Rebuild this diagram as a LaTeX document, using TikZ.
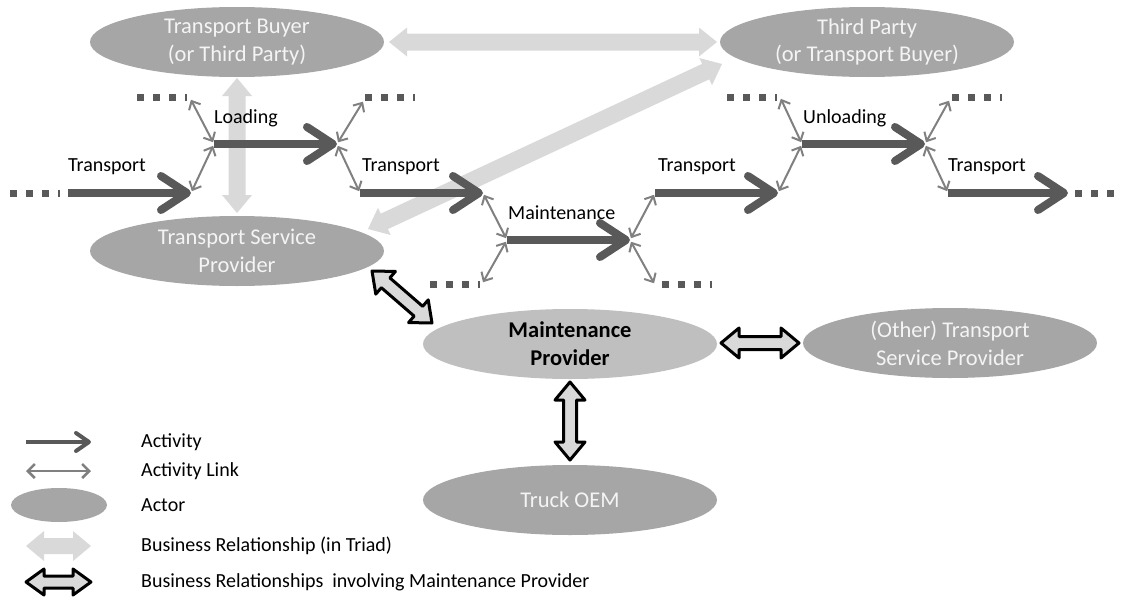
\documentclass[tikz,border=0pt]{standalone}
\usepackage{fontspec}
\setmainfont{Carlito}
\usetikzlibrary{shapes.geometric,arrows.meta,calc}
\definecolor{actc}{HTML}{595959}
\definecolor{linkc}{HTML}{808080}
\definecolor{actorc}{HTML}{A6A6A6}
\definecolor{mpc}{HTML}{BFBFBF}
\definecolor{triadc}{HTML}{D9D9D9}
\definecolor{actortext}{HTML}{F4F4F4}
\newcommand{\dblarr}[6]{% style, A, B, shaft half, head half, head length
  \coordinate (h1) at ($(#2)!#6!(#3)$);
  \coordinate (h2) at ($(#3)!#6!(#2)$);
  \path[#1] (#2) -- ($(h1)!#5!-90:(#2)$) -- ($(h1)!#4!-90:(#2)$)
    -- ($(h2)!#4!90:(#3)$) -- ($(h2)!#5!90:(#3)$) -- (#3)
    -- ($(h2)!#5!-90:(#3)$) -- ($(h2)!#4!-90:(#3)$)
    -- ($(h1)!#4!90:(#2)$) -- ($(h1)!#5!90:(#2)$) -- cycle;
}
\begin{document}
\begin{tikzpicture}[x=1pt,y=-1pt,
  actor/.style={ellipse, fill=actorc, draw=none, minimum width=294pt, minimum height=70pt,
    inner sep=0pt, align=center, text=actortext, font=\fontsize{22.5}{28}\selectfont},
  mpactor/.style={actor, fill=mpc, text=black, font=\fontsize{22.5}{28}\selectfont\bfseries},
  act/.style={draw=actc, line width=8pt, -{Straight Barb[length=26pt,width=34pt,round]}},
  lnk/.style={draw=linkc, line width=2pt, {Straight Barb[length=7pt,width=13pt]}-{Straight Barb[length=7pt,width=13pt]}, shorten <=2pt, shorten >=2pt},
  dots/.style={draw=actc, line width=7pt, dash pattern=on 7pt off 9pt},
  lbl/.style={anchor=west, inner sep=0pt, font=\fontsize{20}{24}\selectfont},
  legtxt/.style={anchor=west, inner sep=0pt, font=\fontsize{20}{24}\selectfont},
  triad/.style={fill=triadc},
  mprel/.style={fill=triadc, draw=black, line width=3pt, line join=round}
]
\useasboundingbox (0,0) rectangle (1127,597);

% actors
\node[actor] (tb) at (237,42) {Transport Buyer\\(or Third Party)};
\node[actor] (tp) at (867,42) {Third Party\\(or Transport Buyer)};
\node[actor] (tsp) at (237,251) {Transport Service\\Provider};
\node[mpactor] (mp) at (570,344) {Maintenance\\Provider};
\node[actor] (otsp) at (950,343) {(Other) Transport\\Service Provider};
\node[actor] (oem) at (570,500) {Truck OEM};

% triad relationships
\coordinate (r1a) at (389,42); \coordinate (r1b) at (717,42);
\coordinate (r2a) at (237,78); \coordinate (r2b) at (237,213);
\coordinate (r3a) at (368,229); \coordinate (r3b) at (722,64);
\dblarr{triad}{r1a}{r1b}{8.5pt}{14.5pt}{18pt}
\dblarr{triad}{r2a}{r2b}{8.5pt}{15pt}{18pt}
\dblarr{triad}{r3a}{r3b}{8.5pt}{15pt}{18pt}

% activity points
\coordinate (c0) at (68,193);
\coordinate (p1) at (191,193); \coordinate (q1) at (214,144);
\coordinate (p2) at (337,144); \coordinate (q2) at (360,193);
\coordinate (p3) at (483,193); \coordinate (q3) at (507,240);
\coordinate (p4) at (630,240); \coordinate (q4) at (655,193);
\coordinate (p5) at (778,193); \coordinate (q5) at (802,144);
\coordinate (p6) at (925,144); \coordinate (q6) at (948,193);
\coordinate (p7) at (1068,193);

% dotted continuations
\coordinate (d0a) at (10,193);  \coordinate (d0b) at (60,193);
\coordinate (d1a) at (137,97);  \coordinate (d1b) at (187,97);
\coordinate (d2a) at (365,97);  \coordinate (d2b) at (415,97);
\coordinate (d3a) at (430,284); \coordinate (d3b) at (480,284);
\coordinate (d4a) at (662,284); \coordinate (d4b) at (712,284);
\coordinate (d5a) at (727,97);  \coordinate (d5b) at (777,97);
\coordinate (d6a) at (952,97);  \coordinate (d6b) at (1002,97);
\coordinate (d7a) at (1075,193); \coordinate (d7b) at (1116,193);
\foreach \i in {0,...,7} { \draw[dots] (d\i a) -- (d\i b); }

% activities
\draw[act] (c0) -- (p1);
\draw[act] (q1) -- (p2);
\draw[act] (q2) -- (p3);
\draw[act] (q3) -- (p4);
\draw[act] (q4) -- (p5);
\draw[act] (q5) -- (p6);
\draw[act] (q6) -- (p7);

% activity links
\coordinate (e1) at (190,98);
\coordinate (e2) at (364,100);
\coordinate (e3) at (482,284);
\coordinate (e4) at (655,285);
\coordinate (e5) at (780,97);
\coordinate (e6) at (950,99);
\draw[lnk] (p1) -- (q1);
\draw[lnk] (q1) -- (e1);
\draw[lnk] (p2) -- (q2);
\draw[lnk] (p2) -- (e2);
\draw[lnk] (p3) -- (q3);
\draw[lnk] (q3) -- (e3);
\draw[lnk] (p4) -- (q4);
\draw[lnk] (p4) -- (e4);
\draw[lnk] (p5) -- (q5);
\draw[lnk] (q5) -- (e5);
\draw[lnk] (p6) -- (q6);
\draw[lnk] (p6) -- (e6);

% activity labels
\node[lbl] (l1) at (68,167) {Transport};
\node[lbl] (l2) at (214,118) {Loading};
\node[lbl] (l3) at (362,167) {Transport};
\node[lbl] (l4) at (508,213) {Maintenance};
\node[lbl] (l5) at (658,167) {Transport};
\node[lbl] (l6) at (803,118) {Unloading};
\node[lbl] (l7) at (948,167) {Transport};

% maintenance provider relationships
\coordinate (m1a) at (372,271); \coordinate (m1b) at (432,323);
\coordinate (m2a) at (721,343); \coordinate (m2b) at (799,343);
\coordinate (m3a) at (570,382); \coordinate (m3b) at (570,460);
\dblarr{mprel}{m1a}{m1b}{6.5pt}{15pt}{18pt}
\dblarr{mprel}{m2a}{m2b}{6.5pt}{15pt}{18pt}
\dblarr{mprel}{m3a}{m3b}{6.5pt}{15pt}{18pt}

% legend
\coordinate (la1) at (26,442); \coordinate (lb1) at (91,442);
\draw[draw=actc, line width=4pt, -{Straight Barb[length=13pt,width=18pt,round]}] (la1) -- (lb1);
\coordinate (la2) at (26,471); \coordinate (lb2) at (91,471);
\draw[draw=linkc, line width=2.5pt, {Straight Barb[length=7pt,width=14pt]}-{Straight Barb[length=7pt,width=14pt]}] (la2) -- (lb2);
\node[ellipse, fill=actorc, minimum width=96pt, minimum height=34pt, inner sep=0pt] (lact) at (59,505) {};
\coordinate (la4) at (26,546); \coordinate (lb4) at (91,546);
\dblarr{triad}{la4}{lb4}{8pt}{15pt}{18pt}
\coordinate (la5) at (26,582); \coordinate (lb5) at (91,582);
\dblarr{mprel}{la5}{lb5}{6pt}{13pt}{18pt}
\node[legtxt] (t1) at (141,442) {Activity};
\node[legtxt] (t2) at (141,471) {Activity Link};
\node[legtxt] (t3) at (141,505) {Actor};
\node[legtxt] (t4) at (141,546) {Business Relationship (in Triad)};
\node[legtxt] (t5) at (141,582) {Business Relationships\ \ involving Maintenance Provider};
\end{tikzpicture}
\end{document}
